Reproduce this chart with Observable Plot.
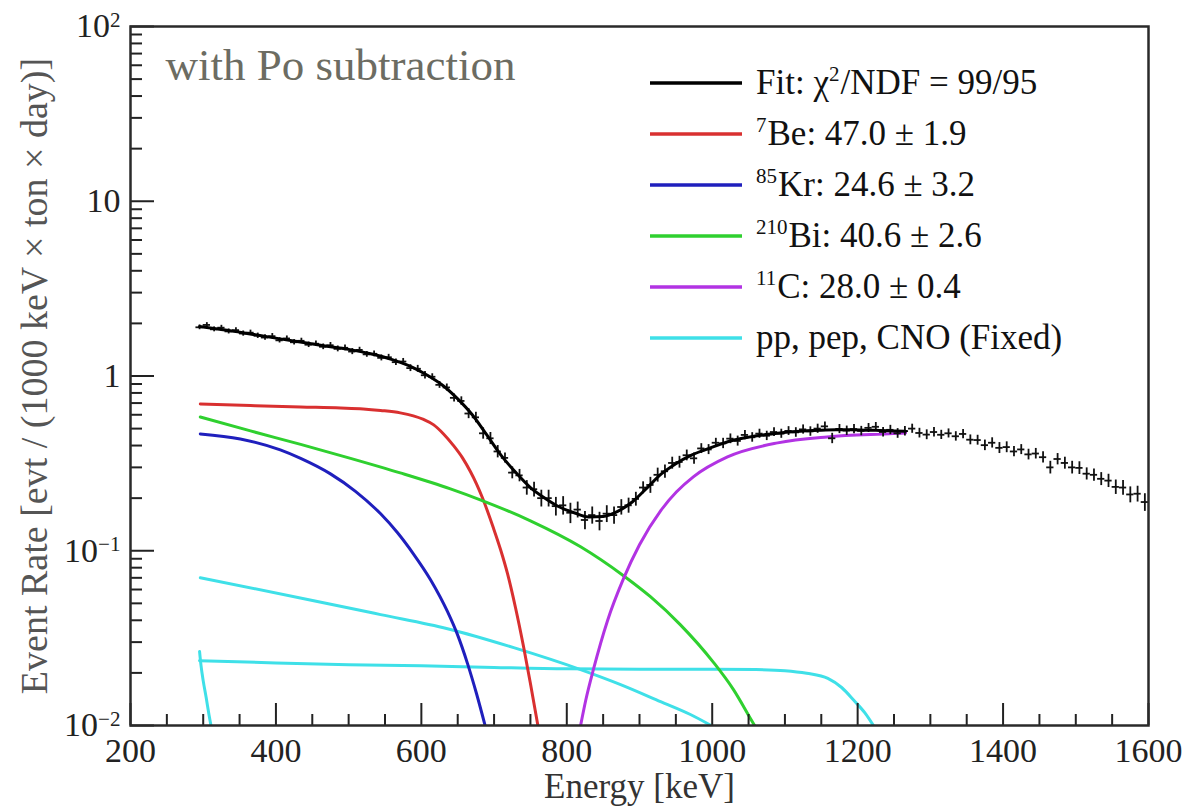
<!DOCTYPE html>
<html>
<head>
<meta charset="utf-8">
<script src="https://cdn.jsdelivr.net/npm/d3@7"></script>
<script src="https://cdn.jsdelivr.net/npm/@observablehq/plot@0.6"></script>
<style>
  html, body { margin: 0; padding: 0; background: #fff; }
  #wrap { position: relative; width: 1189px; height: 806px; overflow: hidden; }
  #legend { position: absolute; left: 650px; top: 57px; font-family: "Liberation Serif", "Times New Roman", serif; font-size: 35px; color: #111; }
  .row { display: flex; align-items: center; height: 51px; white-space: nowrap; }
  .row svg { margin-right: 14px; }
  .row sup { font-size: 0.6em; vertical-align: 0.6em; line-height: 0; margin-right: 1px; }
</style>
</head>
<body>
<div id="wrap"><div id="legend"></div></div>
<script>
// ---------- data ----------
// tick values
const xMajorTicks = [200, 400, 600, 800, 1000, 1200, 1400, 1600];
const xMinorTicks = [250, 300, 350, 450, 500, 550, 650, 700, 750, 850, 900, 950, 1050, 1100, 1150, 1250, 1300, 1350, 1450, 1500, 1550];
const yMajorTicks = [0.01, 0.1, 1, 10, 100];
const yTickLabels = ["10^-2", "10^-1", "1", "10", "10^2"];

// measured spectrum (bin centre energy, rate, error)
const binEnergy = [295,305,315,325,335,345,355,365,375,385,395,405,415,425,435,445,455,465,475,485,495,505,515,525,535,545,555,565,575,585,595,605,615,625,635,645,655,665,675,685,695,705,715,725,735,745,755,765,775,785,795,805,815,825,835,845,855,865,875,885,895,905,915,925,935,945,955,965,975,985,995,1005,1015,1025,1035,1045,1055,1065,1075,1085,1095,1105,1115,1125,1135,1145,1155,1165,1175,1185,1195,1205,1215,1225,1235,1245,1255,1265,1275,1285,1295,1305,1315,1325,1335,1345,1355,1365,1375,1385,1395,1405,1415,1425,1435,1445,1455,1465,1475,1485,1495,1505,1515,1525,1535,1545,1555,1565,1575,1585,1595];
const binRate = [1.90,1.96,1.85,1.89,1.80,1.83,1.75,1.77,1.70,1.66,1.69,1.60,1.64,1.56,1.59,1.51,1.53,1.47,1.50,1.43,1.45,1.38,1.41,1.33,1.34,1.27,1.28,1.20,1.21,1.11,1.10,1.01,0.99,0.89,0.86,0.75,0.72,0.61,0.58,0.47,0.44,0.37,0.34,0.28,0.27,0.23,0.225,0.20,0.20,0.18,0.182,0.165,0.172,0.150,0.160,0.148,0.163,0.160,0.178,0.182,0.198,0.230,0.238,0.272,0.285,0.318,0.322,0.352,0.338,0.385,0.380,0.415,0.412,0.438,0.425,0.460,0.446,0.468,0.455,0.478,0.468,0.485,0.476,0.495,0.482,0.500,0.515,0.440,0.498,0.487,0.497,0.485,0.505,0.512,0.478,0.492,0.470,0.484,0.500,0.472,0.462,0.478,0.461,0.470,0.452,0.466,0.432,0.430,0.402,0.415,0.388,0.392,0.370,0.380,0.356,0.360,0.343,0.300,0.335,0.318,0.300,0.298,0.276,0.272,0.258,0.252,0.232,0.230,0.210,0.212,0.190];
const binError = [0.06,0.06,0.06,0.06,0.06,0.06,0.06,0.06,0.06,0.06,0.06,
  0.055,0.055,0.055,0.055,0.055,0.055,0.055,0.055,0.055,0.055,0.055,
  0.05,0.05,0.05,0.05,0.05,0.05,0.05,0.05,0.05,0.05,
  0.04,0.04,0.04,0.04,0.04,0.04,0.04,0.035,0.035,0.03,
  0.022,0.022,0.022,0.022,0.022,0.022,0.022,0.022,0.022,0.022,
  0.018,0.018,0.018,0.018,0.018,0.018,0.018,0.018,0.018,0.018,
  0.025,0.025,0.025,0.025,0.025,0.025,0.025,0.025,0.025,0.025,
  0.028,0.028,0.028,0.028,0.028,0.028,0.028,0.028,0.028,0.028,
  0.03,0.03,0.03,0.03,0.03,0.03,0.03,0.03,0.03,0.03,
  0.03,0.03,0.03,0.03,0.03,0.03,0.03,0.03,0.03,0.03,
  0.028,0.028,0.028,0.028,0.028,0.028,0.028,0.028,0.028,0.028,
  0.025,0.025,0.025,0.025,0.025,0.025,0.025,0.025,0.025,0.025,
  0.022,0.022,0.022,0.022,0.022,0.022,0.022,0.022,0.022];
const binHalfWidth = 5;

// fitted curves: [energy keV, rate]
const fitTotal = [[295,1.92],[320,1.86],[350,1.78],[380,1.70],[410,1.62],[440,1.55],[470,1.48],[500,1.42],[530,1.34],[560,1.24],[590,1.11],[610,1.00],[630,0.88],[650,0.74],[670,0.60],[690,0.46],[710,0.35],[730,0.28],[750,0.23],[770,0.20],[790,0.178],[810,0.165],[830,0.156],[850,0.157],[870,0.168],[890,0.190],[910,0.228],[930,0.275],[950,0.315],[970,0.35],[990,0.378],[1010,0.405],[1030,0.43],[1050,0.447],[1070,0.46],[1090,0.47],[1110,0.479],[1130,0.486],[1150,0.49],[1170,0.492],[1190,0.492],[1210,0.49],[1230,0.488],[1250,0.485],[1266,0.483]];
const be7 = [[296,0.692],[365,0.678],[434,0.665],[489,0.656],[520,0.648],[544,0.635],[571,0.615],[589,0.591],[603,0.564],[617,0.525],[630.5,0.466],[644,0.401],[656.6,0.340],[667.6,0.283],[675.8,0.2415],[684,0.201],[699,0.1353],[709,0.1013],[718.5,0.0739],[729.5,0.0472],[740.5,0.0283],[750,0.0174],[761,0.0096]];
const kr85 = [[296,0.466],[351,0.4365],[406,0.3777],[434,0.3378],[475,0.2754],[509.4,0.2188],[544,0.1627],[567,0.1272],[589,0.0961],[612.6,0.0683],[636,0.0448],[649.7,0.0331],[663.5,0.0226],[675.8,0.01524],[688,0.00987]];
const bi210 = [[296,0.583],[365,0.485],[434,0.406],[502.6,0.338],[571,0.279],[640,0.226],[681,0.1956],[750,0.1484],[819,0.1054],[878,0.0720],[915,0.0546],[956,0.0378],[1002,0.0229],[1029,0.0161],[1055,0.01054],[1059.5,0.0098]];
const c11 = [[819,0.0100],[826,0.0139],[837,0.0212],[856,0.0398],[878,0.0692],[900,0.1082],[929,0.1693],[951,0.2174],[974,0.2648],[1021,0.3445],[1090,0.4143],[1158,0.448],[1249,0.468],[1266,0.472]];
const pepSpectrum = [[296,0.0701],[452,0.0518],[544,0.0431],[636,0.0358],[727,0.0279],[819,0.0209],[874,0.01715],[929,0.0137],[970,0.01156],[1000.4,0.0099]];
const cnoSpectrum = [[295,0.0235],[400,0.0228],[500,0.0223],[600,0.022],[700,0.0215],[800,0.0211],[900,0.021],[1000,0.021],[1060,0.0209],[1100,0.0206],[1130,0.0199],[1159,0.0186],[1178,0.0165],[1195,0.0139],[1210,0.0118],[1223,0.0098]];
const ppSpectrum = [[295,0.0265],[297,0.022],[300,0.018],[304,0.0145],[308,0.0115],[311,0.0098]];

// legend entries
const legendIsotope = ["", "7", "85", "210", "11", ""];
const legendText = ["Fit: χ<sup>2</sup>/NDF = 99/95", "Be: 47.0 ± 1.9", "Kr: 24.6 ± 3.2", "Bi: 40.6 ± 2.6", "C: 28.0 ± 0.4", "pp, pep, CNO (Fixed)"];
const legendColor = ["#000000", "#d93030", "#1f1fbd", "#2fd02f", "#b233e3", "#3fe0e8"];

// ---------- chart ----------
const colors = {fit: legendColor[0], be7: legendColor[1], kr85: legendColor[2], bi210: legendColor[3], c11: legendColor[4], solar: legendColor[5]};
const points = binEnergy.map((E, i) => ({E, v: binRate[i], e: binError[i]}));
const yMinorTicks = [0.01, 0.1, 1, 10].flatMap(d => [2,3,4,5,6,7,8,9].map(k => +(d * k).toPrecision(3)));

const W = 1189, H = 806, mL = 130, mR = 41, mT = 26, mB = 81;
const fw = W - mL - mR, fh = H - mT - mB;
const lineOpts = (stroke, sw = 3) => ({x: d => d[0], y: d => d[1], stroke, strokeWidth: sw, curve: "monotone-x", clip: true});

const chart = Plot.plot({
  width: W, height: H,
  marginLeft: mL, marginRight: mR, marginTop: mT, marginBottom: mB,
  x: {domain: [200, 1600]},
  y: {type: "log", domain: [0.01, 100]},
  style: {fontFamily: "'Liberation Serif', 'Times New Roman', serif", fontSize: "34px", color: "#1a1a1a", background: "white", overflow: "visible"},
  marks: [
    // component curves
    Plot.line(pepSpectrum, lineOpts(colors.solar)),
    Plot.line(cnoSpectrum, lineOpts(colors.solar)),
    Plot.line(ppSpectrum, lineOpts(colors.solar)),
    Plot.line(kr85, lineOpts(colors.kr85)),
    Plot.line(be7, lineOpts(colors.be7)),
    Plot.line(bi210, lineOpts(colors.bi210)),
    Plot.line(c11, lineOpts(colors.c11)),
    // data with error bars
    Plot.ruleX(points, {x: "E", y1: d => d.v - d.e, y2: d => d.v + d.e, stroke: "#111", strokeWidth: 1.8}),
    Plot.ruleY(points, {y: "v", x1: d => d.E - binHalfWidth, x2: d => d.E + binHalfWidth, stroke: "#111", strokeWidth: 1.8}),
    // total fit
    Plot.line(fitTotal, lineOpts(colors.fit, 3)),
    // inward ticks
    Plot.tickX(xMajorTicks, {x: d => d, insetTop: fh - 22, stroke: "#222", strokeWidth: 2}),
    Plot.tickX(xMinorTicks, {x: d => d, insetTop: fh - 11, stroke: "#222", strokeWidth: 2}),
    Plot.tickY(yMajorTicks, {y: d => d, insetRight: fw - 24, stroke: "#222", strokeWidth: 2}),
    Plot.tickY(yMinorTicks, {y: d => d, insetRight: fw - 12, stroke: "#222", strokeWidth: 2}),
    // axes (labels only)
    Plot.axisX({ticks: xMajorTicks, tickSize: 0, tickPadding: 12, tickFormat: d => String(d), fill: "#222",
      label: "Energy [keV]", labelAnchor: "center", labelArrow: "none", labelOffset: 72}),
    Plot.axisY({ticks: yMajorTicks, tickSize: 0, tickPadding: 10, tickFormat: d => yTickLabels[yMajorTicks.indexOf(d)], fill: "#222",
      label: "Event Rate [evt / (1000 keV × ton × day)]", labelAnchor: "center", labelArrow: "none", labelOffset: 110}),
    Plot.frame({stroke: "#2a2a2a", strokeWidth: 2.5}),
    Plot.text(["with Po subtraction"], {frameAnchor: "top-left", dx: 35, dy: 22, text: d => d, textAnchor: "start", fontSize: 45, fill: "#6c6c62"})
  ]
});

// superscript exponents on y tick labels
d3.select(chart).selectAll('g[aria-label="y-axis tick label"] text').each(function () {
  const t = d3.select(this);
  const s = t.text();
  if (s.includes("^")) {
    const [base, exp] = s.split("^");
    t.text(base);
    t.append("tspan").attr("dy", "-0.5em").attr("font-size", "0.62em").text(exp.replace("-", "\u2212"));
  }
});
d3.select(chart).selectAll('g[aria-label="y-axis label"] text').attr("fill", "#555").attr("font-size", 38);
d3.select(chart).selectAll('g[aria-label="x-axis label"] text').attr("fill", "#333").attr("font-size", 35);

document.getElementById("wrap").prepend(chart);

// legend overlay
const legend = d3.select("#legend");
legendText.forEach((txt, i) => {
  const row = legend.append("div").attr("class", "row");
  const s = row.append("svg").attr("width", 92).attr("height", 8);
  s.append("line").attr("x1", 0).attr("x2", 92).attr("y1", 4).attr("y2", 4)
    .attr("stroke", legendColor[i]).attr("stroke-width", 3.5);
  row.append("span").html((legendIsotope[i] ? `<sup>${legendIsotope[i]}</sup>` : "") + txt);
});
</script>
</body>
</html>
